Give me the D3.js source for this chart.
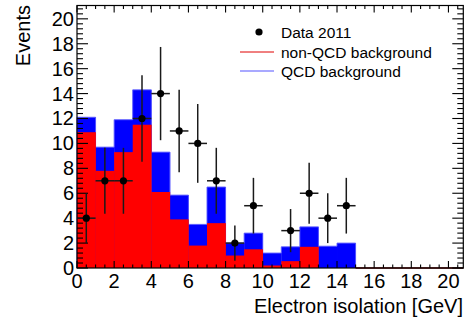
<!DOCTYPE html>
<html><head><meta charset="utf-8">
<script src="https://cdn.jsdelivr.net/npm/d3@7"></script>
<style>
html,body{margin:0;padding:0;background:#fff;}
svg{display:block;font-family:"Liberation Sans",Arial,Helvetica,sans-serif;}
</style></head>
<body>
<svg id="c" width="467" height="322"></svg>
<script>
// ---- data ----
const binLow      = [0,1,2,3,4,5,6,7,8,9,10,11,12,13,14];
const binWidth    = 1;
const nonQCD      = [10.9,7.8,9.3,11.5,6.1,3.9,1.8,3.6,1.0,1.5,0.2,0.55,1.7,0,0];
const qcd         = [1.2,1.9,2.6,2.8,3.2,1.95,1.7,2.9,1.0,1.3,1.0,1.15,1.6,1.75,2.0];
const data2011    = [4,7,7,12,14,11,10,7,2,5,0,3,6,4,5];
const xTickLabels = [0,2,4,6,8,10,12,14,16,18,20];
const yTickLabels = [0,2,4,6,8,10,12,14,16,18,20];
const legendLabels = ["Data 2011","non-QCD background","QCD background"];

// ---- layout ----
const svg = d3.select("#c");
const L = 77, R = 463.3, T = 5.5, B = 268;
const x = d3.scaleLinear().domain([0, 20.8]).range([L, R]);
const y = d3.scaleLinear().domain([0, 21.07]).range([B, T]);

const bins = binLow.map((b,i)=>({x0:b, x1:b+binWidth, red:nonQCD[i], blue:qcd[i], total:nonQCD[i]+qcd[i], d:data2011[i]}));

// stacked: total (blue) then red
const g = svg.append("g");
g.selectAll("rect.tot").data(bins).enter().append("rect")
  .attr("x", d=>x(d.x0)).attr("width", d=>x(d.x1)-x(d.x0)+0.3)
  .attr("y", d=>y(d.total)).attr("height", d=>y(0)-y(d.total))
  .attr("fill", "#0000ff");
// light blue top outline of the stack
const topLine = d3.line().curve(d3.curveStepAfter).x(d=>x(d[0])).y(d=>y(d[1]));
const stepPts = bins.map(d=>[d.x0, d.total]).concat([[bins[bins.length-1].x1, 0]]);
g.append("path").attr("d", topLine([[0,0]].concat(stepPts)))
  .attr("fill","none").attr("stroke","#5a5aff").attr("stroke-width",0.9);
g.selectAll("rect.red").data(bins.filter(d=>d.red>0)).enter().append("rect")
  .attr("x", d=>x(d.x0)).attr("width", d=>x(d.x1)-x(d.x0)+0.3)
  .attr("y", d=>y(d.red)).attr("height", d=>y(0)-y(d.red))
  .attr("fill", "#ff0000");

// red zero line beyond
svg.append("line").attr("x1", x(15)).attr("x2", R).attr("y1", B).attr("y2", B)
  .attr("stroke","#700000").attr("stroke-width",1.5);

// frame
svg.append("rect").attr("x",L).attr("y",T).attr("width",R-L).attr("height",B-T)
  .attr("fill","none").attr("stroke","#000").attr("stroke-width",1.2);

// ticks
const xMinor = d3.range(0, 20.81, 0.5);
const yMinor = d3.range(0, 21.07, 0.4);
const tk = svg.append("g").attr("stroke","#000").attr("stroke-width",1.1);
xMinor.forEach(v=>{
  const major = Math.abs(v/2 - Math.round(v/2))<1e-6;
  const len = major?7:3.5;
  tk.append("line").attr("x1",x(v)).attr("x2",x(v)).attr("y1",B).attr("y2",B-len);
  tk.append("line").attr("x1",x(v)).attr("x2",x(v)).attr("y1",T).attr("y2",T+len);
});
yMinor.forEach(v=>{
  const major = Math.abs(v/2 - Math.round(v/2))<1e-6;
  const len = major?11:6;
  tk.append("line").attr("x1",L).attr("x2",L+len).attr("y1",y(v)).attr("y2",y(v));
  tk.append("line").attr("x1",R).attr("x2",R-len).attr("y1",y(v)).attr("y2",y(v));
});

// tick labels
svg.append("g").selectAll("text").data(xTickLabels).enter().append("text")
  .attr("x", d=>x(d)).attr("y", 288).attr("text-anchor","middle")
  .attr("font-size",20).attr("fill","#000").text(d=>d);
svg.append("g").selectAll("text").data(yTickLabels).enter().append("text")
  .attr("x", 74).attr("y", d=>y(d)+7).attr("text-anchor","end")
  .attr("font-size",20).attr("fill","#000").text(d=>d);

// axis titles
svg.append("text").attr("x",463).attr("y",313).attr("text-anchor","end")
  .attr("font-size",20).attr("fill","#000").text("Electron isolation [GeV]");
svg.append("text").attr("transform","translate(30,5) rotate(-90)")
  .attr("text-anchor","end").attr("font-size",20).attr("fill","#000").text("Events");

// data points
const dp = svg.append("g");
bins.filter(d=>d.d>0).forEach(d=>{
  const cx = x((d.x0+d.x1)/2), e = Math.sqrt(d.d);
  dp.append("line").attr("x1",cx).attr("x2",cx).attr("y1",y(d.d-e)).attr("y2",y(d.d+e))
    .attr("stroke","#1a1a1a").attr("stroke-width",1.5);
  dp.append("line").attr("x1",x(d.x0)).attr("x2",x(d.x1)).attr("y1",y(d.d)).attr("y2",y(d.d))
    .attr("stroke","#1a1a1a").attr("stroke-width",1.5);
  dp.append("circle").attr("cx",cx).attr("cy",y(d.d)).attr("r",3.6).attr("fill","#000");
});

// legend
const lg = svg.append("g");
const ly = [32, 52, 71];
lg.append("circle").attr("cx",259).attr("cy",ly[0]).attr("r",3.6).attr("fill","#000");
lg.append("line").attr("x1",240).attr("x2",274).attr("y1",ly[1]).attr("y2",ly[1]).attr("stroke","#e00000").attr("stroke-width",1);
lg.append("line").attr("x1",240).attr("x2",274).attr("y1",ly[2]).attr("y2",ly[2]).attr("stroke","#5555ff").attr("stroke-width",1.2);
legendLabels.forEach((t,i)=>{
  lg.append("text").attr("x",281).attr("y",ly[i]+5.5).attr("font-size",15.5).attr("fill","#000").text(t);
});
</script>
</body></html>
